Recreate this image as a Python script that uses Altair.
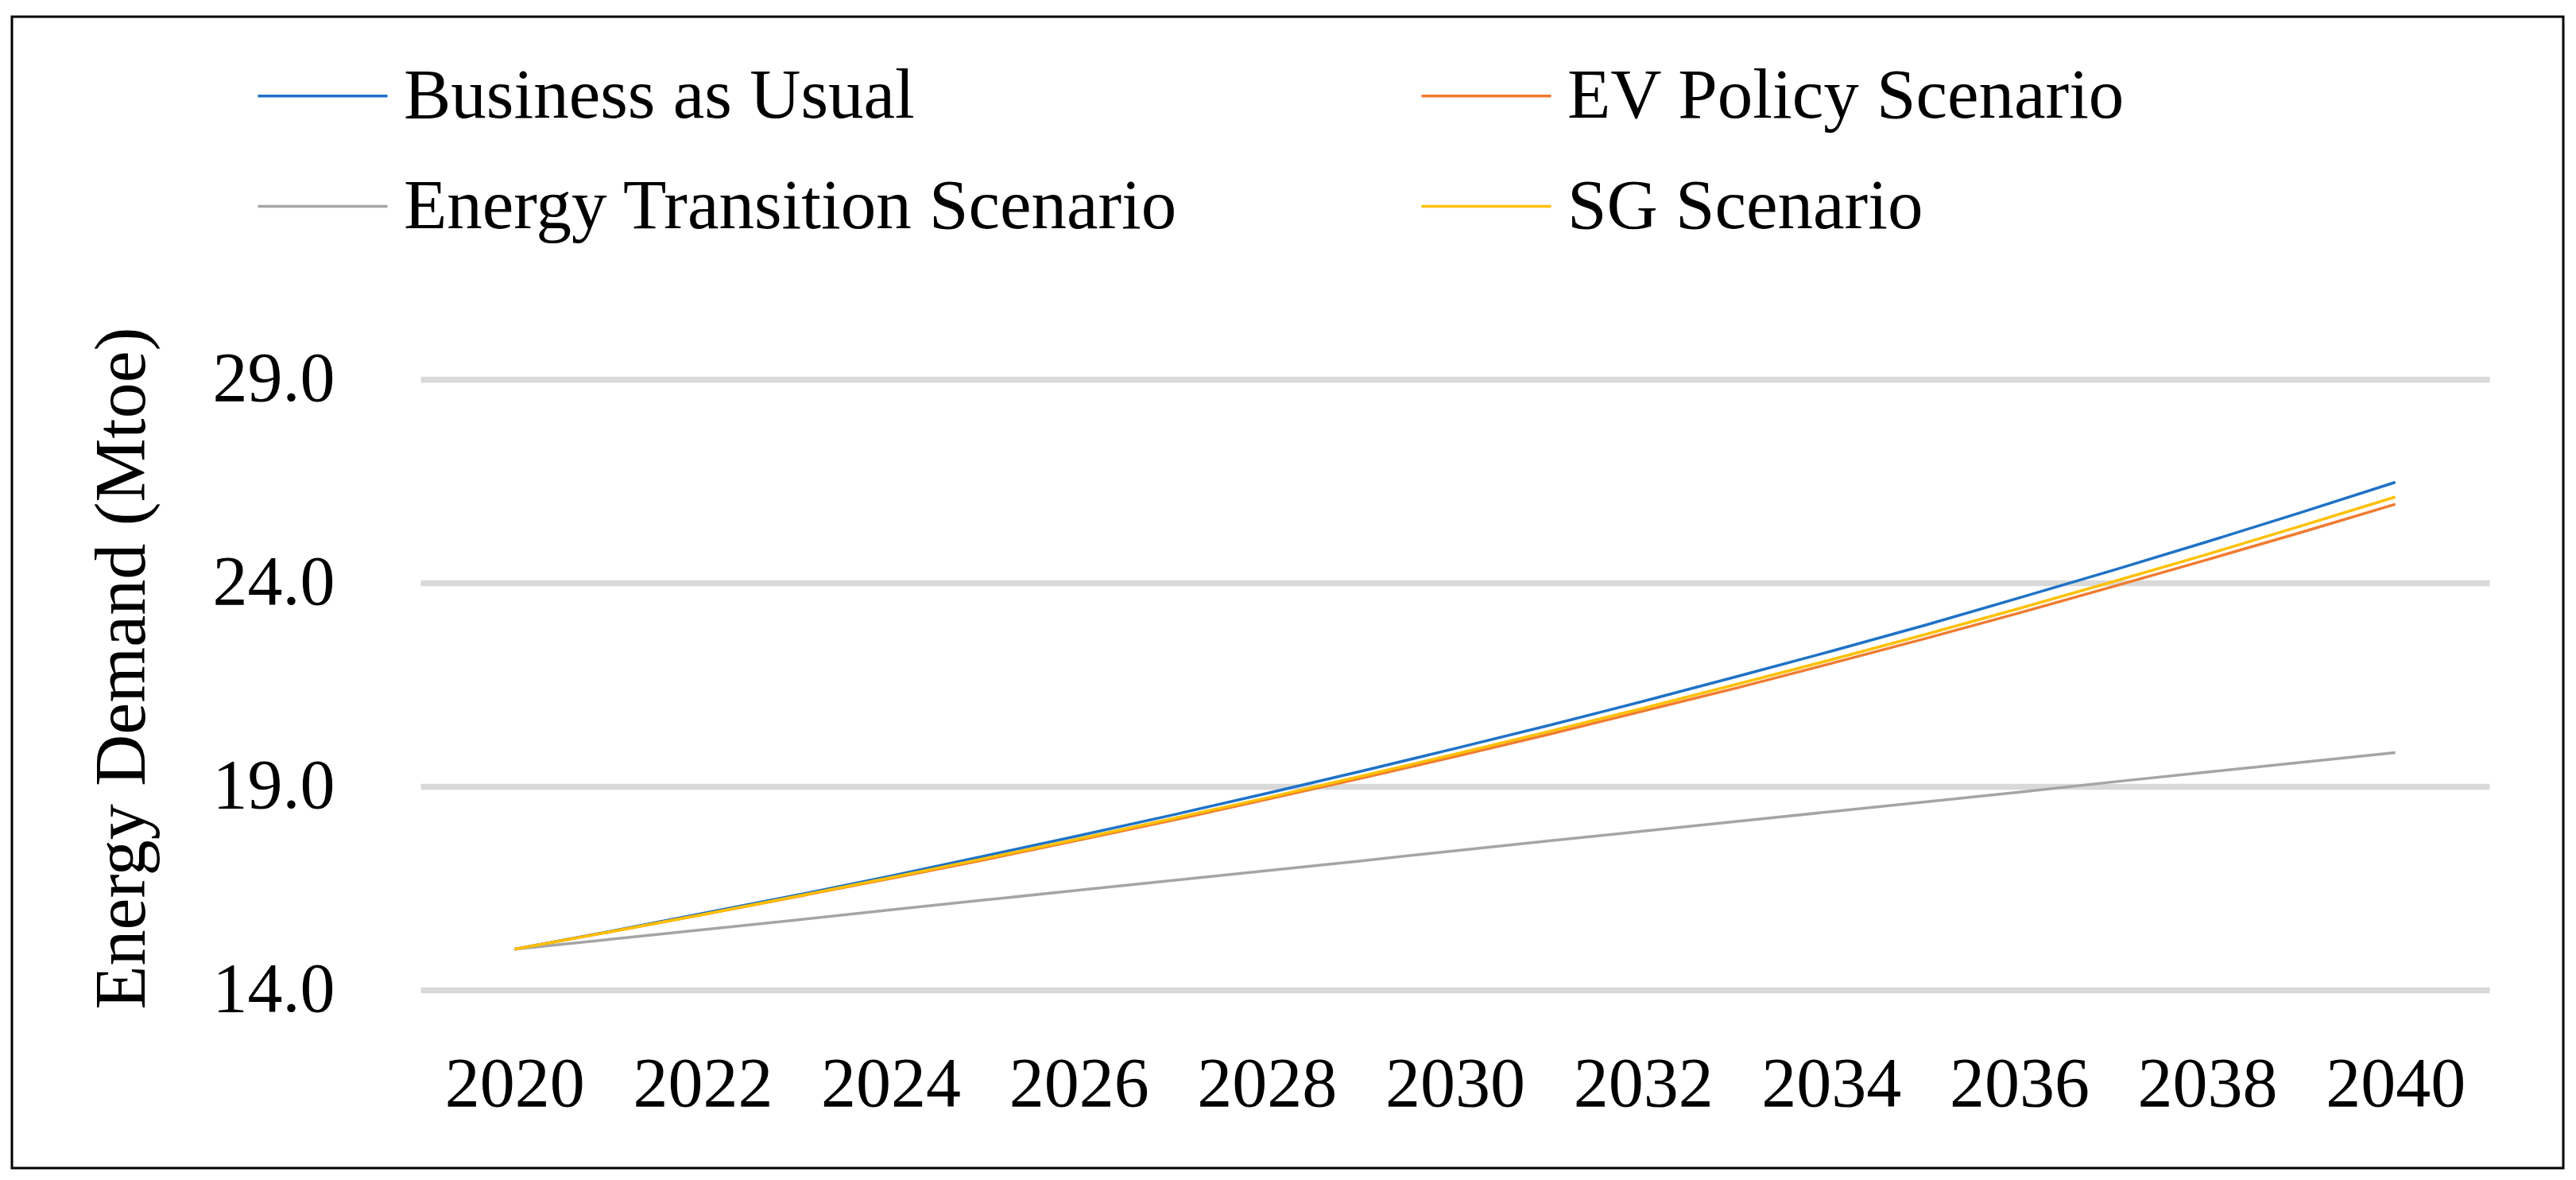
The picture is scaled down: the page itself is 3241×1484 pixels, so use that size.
import altair as alt
import pandas as pd

years = list(range(2020, 2041))
# order chosen so the 2-column legend reads: row 1 BAU | EV, row 2 ET | SG
series_names = ["Business as Usual", "Energy Transition Scenario", "EV Policy Scenario", "SG Scenario"]
series_colors = ["#1F72C6", "#A5A5A5", "#F07B30", "#FFC000"]

bau = [15.00, 15.43, 15.88, 16.33, 16.80, 17.29, 17.79, 18.30, 18.83, 19.37, 19.93,
       20.50, 21.09, 21.70, 22.32, 22.96, 23.63, 24.31, 25.01, 25.73, 26.47]
ev = [15.00, 15.42, 15.85, 16.29, 16.74, 17.20, 17.68, 18.17, 18.68, 19.20, 19.73,
      20.28, 20.85, 21.42, 22.02, 22.63, 23.26, 23.91, 24.57, 25.24, 25.93]
et = [15.00, 15.24, 15.48, 15.72, 15.97, 16.21, 16.45, 16.69, 16.93, 17.17, 17.42,
      17.66, 17.90, 18.14, 18.38, 18.62, 18.86, 19.11, 19.35, 19.59, 19.83]
sg = [15.00, 15.42, 15.85, 16.30, 16.76, 17.23, 17.71, 18.21, 18.72, 19.25, 19.79,
      20.35, 20.92, 21.51, 22.11, 22.73, 23.37, 24.03, 24.70, 25.40, 26.11]

x_ticks = [2020, 2022, 2024, 2026, 2028, 2030, 2032, 2034, 2036, 2038, 2040]
y_ticks = [14.0, 19.0, 24.0, 29.0]

series_values = {
    "Business as Usual": bau,
    "EV Policy Scenario": ev,
    "Energy Transition Scenario": et,
    "SG Scenario": sg,
}

rows = []
for name, vals in series_values.items():
    for yr, v in zip(years, vals):
        rows.append({"Year": yr, "Value": v, "Scenario": name})
df = pd.DataFrame(rows)

FONT = "Liberation Serif"

lines = alt.Chart(df).mark_line(strokeWidth=3.5).encode(
    x=alt.X("Year:Q",
            scale=alt.Scale(domain=[2019, 2041], nice=False, zero=False),
            axis=alt.Axis(values=x_ticks, format="d", grid=False, domain=False, ticks=False,
                          labelFont=FONT, labelFontSize=88, labelColor="black",
                          labelPadding=75, title=None, labelFlush=False, labelOverlap=False)),
    y=alt.Y("Value:Q",
            scale=alt.Scale(domain=[14, 29], nice=False, zero=False),
            axis=alt.Axis(values=y_ticks, format=".1f", grid=True, gridColor="#D9D9D9",
                          gridWidth=7.5, domain=False, ticks=False,
                          labelFont=FONT, labelFontSize=88, labelColor="black",
                          labelPadding=108, labelOverlap=False,
                          title="Energy Demand (Mtoe)", titleFont=FONT, titleFontSize=90,
                          titleFontWeight="normal", titleColor="black",
                          titleX=-348, titleY=363, titleAlign="center",
                          titleBaseline="alphabetic", titleAngle=270)),
    color=alt.Color("Scenario:N",
                    scale=alt.Scale(domain=series_names, range=series_colors),
                    sort=series_names,
                    legend=alt.Legend(title=None, orient="none", legendX=-249, legendY=-401,
                                      columns=2, columnPadding=262, rowPadding=49,
                                      padding=0, symbolType="M0,0H10", symbolSize=1063,
                                      symbolStrokeWidth=3.5, symbolOffset=0,
                                      labelFont=FONT, labelFontSize=89, labelColor="black",
                                      labelOffset=139, labelLimit=3000, labelBaseline="middle")),
)

frame = alt.Chart(pd.DataFrame({"f": [0]})).mark_rect(
    fill="white", fillOpacity=0, stroke="black", strokeWidth=3
).encode(
    x=alt.value(-514), x2=alt.value(2696), y=alt.value(-456), y2=alt.value(992)
)

chart = alt.layer(frame, lines).properties(
    width=2603, height=768,
    autosize=alt.AutoSizeParams(type="none"),
    padding={"left": 521, "top": 469, "right": 101, "bottom": 231},
    background="white",
).configure_view(strokeWidth=0)

chart.save("out.html", embed_options={"renderer": "svg", "actions": False})
